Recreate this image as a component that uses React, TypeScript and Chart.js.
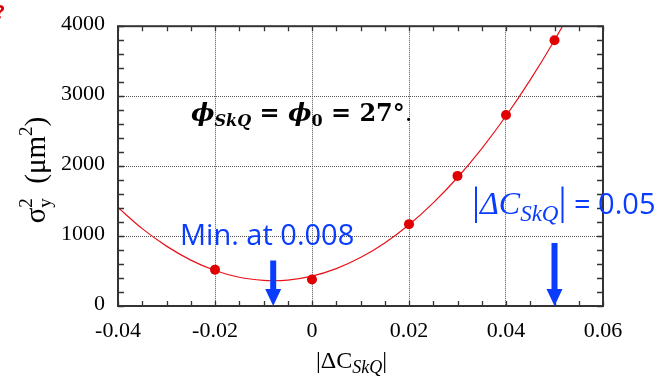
import React, { useEffect, useRef } from "react";
import { Chart, registerables } from "chart.js";

Chart.register(...registerables);

// Measured beam-size variance against |ΔC_SkQ|
const measuredDelta = [-0.02, 0, 0.02, 0.03, 0.04, 0.05];
const measuredSigma2 = [520, 380, 1170, 1860, 2730, 3800];

// Parabolic fit curve through the measurements
const fitDelta = [-0.04, -0.035, -0.03, -0.025, -0.02, -0.015, -0.01, -0.008, -0.005, 0, 0.005, 0.01, 0.015, 0.02, 0.025, 0.03, 0.035, 0.04, 0.045, 0.05, 0.055];
const fitSigma2 = [1408, 1106, 856, 656, 508, 411, 365, 361, 370, 426, 534, 692, 902, 1162, 1474, 1837, 2251, 2716, 3232, 3799, 4417];

// Axis ticks
const xTickValues = [-0.04, -0.02, 0, 0.02, 0.04, 0.06];
const xTickLabels = ["-0.04", "-0.02", "0", "0.02", "0.04", "0.06"];
const yTickValues = [0, 1000, 2000, 3000, 4000];
const yTickLabels = ["0", "1000", "2000", "3000", "4000"];
const xMinorStep = 0.005;
const yMinorStep = 200;

// Blue markers: minimum of the fit and the chosen working point
const arrowDelta = [-0.008, 0.05];
const arrowTop = [650, 900];

const RED = "#e00000";
const BLUE = "#0a3cff";
const AXIS = "#333333";
const SERIF = '"Liberation Serif", "Times New Roman", serif';
const DSERIF = '"DejaVu Serif", serif';
const SANS = '"Open Sans", "Noto Sans", sans-serif';

type Seg = { t: string; font: string; dy?: number; back?: boolean; color?: string };

function drawRich(ctx: CanvasRenderingContext2D, x: number, y: number, segs: Seg[], color: string, draw = true): number {
  let cx = x;
  let lastStart = x;
  let lastWidth = 0;
  for (const s of segs) {
    ctx.font = s.font;
    const w = ctx.measureText(s.t).width;
    const start = s.back ? lastStart : cx;
    if (draw) {
      ctx.fillStyle = s.color || color;
      ctx.fillText(s.t, start, y + (s.dy || 0));
    }
    cx = s.back ? Math.max(lastStart + lastWidth, start + w) : start + w;
    lastStart = start;
    lastWidth = w;
  }
  return cx - x;
}

const decorations = {
  id: "decorations",
  afterDatasetsDraw(chart: any) {
    const { ctx, chartArea, scales } = chart;
    const { left, right, top, bottom } = chartArea;
    const xs = scales.x;
    const ys = scales.y;
    ctx.save();

    // minor ticks on all four sides
    ctx.strokeStyle = AXIS;
    ctx.lineWidth = 1.3;
    ctx.beginPath();
    for (let v = xs.min; v <= xs.max + 1e-9; v += xMinorStep) {
      const px = Math.round(xs.getPixelForValue(v)) + 0.5;
      ctx.moveTo(px, bottom);
      ctx.lineTo(px, bottom - 5);
      ctx.moveTo(px, top);
      ctx.lineTo(px, top + 5);
    }
    for (let v = ys.min; v <= ys.max + 1e-9; v += yMinorStep) {
      const py = Math.round(ys.getPixelForValue(v)) + 0.5;
      ctx.moveTo(left, py);
      ctx.lineTo(left + 6, py);
      ctx.moveTo(right, py);
      ctx.lineTo(right - 6, py);
    }
    ctx.stroke();

    // frame
    ctx.lineWidth = 2;
    ctx.strokeRect(left, top, right - left, bottom - top);

    // arrows
    ctx.fillStyle = BLUE;
    arrowDelta.forEach((d, i) => {
      const px = xs.getPixelForValue(d);
      const pTop = ys.getPixelForValue(arrowTop[i]);
      const pTip = ys.getPixelForValue(0);
      const head = 17;
      const shaft = 3;
      const half = 8;
      ctx.beginPath();
      ctx.moveTo(px - shaft, pTop);
      ctx.lineTo(px + shaft, pTop);
      ctx.lineTo(px + shaft, pTip - head);
      ctx.lineTo(px + half, pTip - head);
      ctx.lineTo(px, pTip);
      ctx.lineTo(px - half, pTip - head);
      ctx.lineTo(px - shaft, pTip - head);
      ctx.closePath();
      ctx.fill();
    });

    ctx.textBaseline = "alphabetic";
    ctx.textAlign = "left";

    // phi annotation
    drawRich(ctx, 191, 121, [
      { t: "\u03D5", font: `bold italic 25px ${DSERIF}` },
      { t: "SkQ", font: `bold italic 16px ${DSERIF}`, dy: 5 },
      { t: " = ", font: `bold 24px ${DSERIF}` },
      { t: "\u03D5", font: `bold italic 25px ${DSERIF}` },
      { t: "0", font: `bold 16px ${DSERIF}`, dy: 5 },
      { t: " = 27°", font: `bold 24px ${DSERIF}` },
      { t: ".", font: `24px ${DSERIF}` },
    ], "#000");

    // minimum label
    ctx.font = `29px ${SANS}`;
    ctx.fillStyle = BLUE;
    ctx.fillText("Min. at 0.008", 180, 245);

    // working point label
    drawRich(ctx, 472, 214, [
      { t: "|", font: `40px ${SERIF}` },
      { t: "\u0394C", font: `italic 32px ${SERIF}` },
      { t: "SkQ", font: `italic 23px ${SERIF}`, dy: 7 },
      { t: "|", font: `40px ${SERIF}` },
      { t: " = 0.05", font: `29px ${SANS}` },
    ], BLUE);

    // x-axis title
    drawRich(ctx, 316, 368, [
      { t: "|\u0394C", font: `24px ${SERIF}` },
      { t: "SkQ", font: `italic 18px ${SERIF}`, dy: 5 },
      { t: "|", font: `24px ${SERIF}` },
    ], "#000");

    // y-axis title (rotated)
    const ySegs: Seg[] = [
      { t: "\u03C3", font: `29px ${SERIF}` },
      { t: "y", font: `19px ${SERIF}`, dy: 6 },
      { t: "2", font: `19px ${SERIF}`, dy: -13, back: true },
      { t: "  (\u03BCm", font: `29px ${SERIF}` },
      { t: "2", font: `19px ${SERIF}`, dy: -13 },
      { t: ")", font: `29px ${SERIF}` },
    ];
    const w = drawRich(ctx, 0, 0, ySegs, "#000", false);
    ctx.translate(45, 170);
    ctx.rotate(-Math.PI / 2);
    drawRich(ctx, -w / 2, 0, ySegs, "#000");
    ctx.setTransform(1, 0, 0, 1, 0, 0);

    // red mark in the corner
    ctx.font = `bold 20px ${SANS}`;
    ctx.fillStyle = RED;
    ctx.fillText("?", -5, 19);

    ctx.restore();
  },
};

export default function App() {
  const ref = useRef<HTMLCanvasElement | null>(null);

  useEffect(() => {
    document.body.style.margin = "0";
    const canvas = ref.current;
    if (!canvas) return;
    const tickFont = { family: SERIF, size: 22 };
    const chart = new Chart(canvas, {
      type: "scatter",
      data: {
        datasets: [
          {
            type: "line",
            data: fitDelta.map((x, i) => ({ x, y: fitSigma2[i] })),
            borderColor: "#e8141a",
            borderWidth: 1.2,
            pointRadius: 0,
            cubicInterpolationMode: "monotone",
            fill: false,
            order: 2,
          } as any,
          {
            type: "scatter",
            data: measuredDelta.map((x, i) => ({ x, y: measuredSigma2[i] })),
            backgroundColor: RED,
            borderColor: RED,
            borderWidth: 0,
            pointRadius: 5,
            order: 1,
          },
        ],
      },
      options: {
        responsive: false,
        animation: false,
        layout: { padding: { top: 22, right: 57, left: 0, bottom: 0 } },
        plugins: { legend: { display: false }, tooltip: { enabled: false } },
        scales: {
          x: {
            type: "linear",
            min: -0.04,
            max: 0.06,
            afterBuildTicks: (s: any) => {
              s.ticks = xTickValues.map((value) => ({ value }));
            },
            afterFit: (s: any) => {
              s.height = 70;
            },
            ticks: {
              callback: (_v: any, i: number) => xTickLabels[i],
              font: tickFont,
              color: "#000",
              padding: 12,
              maxRotation: 0,
              autoSkip: false,
            },
            grid: { color: "#555", lineWidth: 1, drawTicks: false },
            border: { display: false, dash: [1, 1] },
          },
          y: {
            type: "linear",
            min: 0,
            max: 4000,
            afterBuildTicks: (s: any) => {
              s.ticks = yTickValues.map((value) => ({ value }));
            },
            afterFit: (s: any) => {
              s.width = 118;
            },
            ticks: {
              callback: (_v: any, i: number) => yTickLabels[i],
              font: tickFont,
              color: "#000",
              padding: 13,
              labelOffset: -2,
              autoSkip: false,
            },
            grid: { color: "#555", lineWidth: 1, drawTicks: false },
            border: { display: false, dash: [1, 1] },
          },
        },
      } as any,
      plugins: [decorations],
    });
    return () => chart.destroy();
  }, []);

  return (
    <div style={{ width: 660, height: 376 }}>
      <canvas ref={ref} width={660} height={376} style={{ display: "block", width: 660, height: 376 }} />
    </div>
  );
}
